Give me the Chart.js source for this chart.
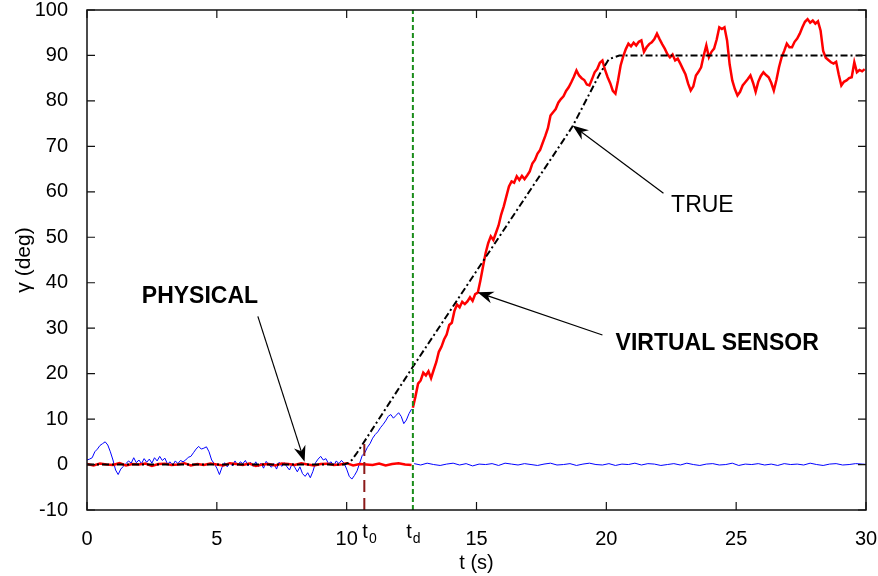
<!DOCTYPE html>
<html>
<head>
<meta charset="utf-8">
<script src="https://cdn.jsdelivr.net/npm/chart.js@4.4.0/dist/chart.umd.min.js"></script>
<style>
  html, body { margin: 0; padding: 0; background: #fff; }
</style>
</head>
<body>
<canvas id="myChart" width="878" height="576"></canvas>
<script>
// physical sensor, 0 .. 12.5 s, every 0.1 s
const physicalStart = 0;
const physicalStep = 0.1;
const physicalDeg = [
  1.0, 1.2, 1.5, 2.8, 3.4, 4.2, 4.6, 5.0, 4.3, 2.8,
  1.0, -1.2, -2.2, -1.0, -0.4, 0.2, 0.8, 0.3, 1.5, 0.4,
  1.0, 0.2, 1.3, 0.5, 1.2, 0.3, 1.5, 0.8, 1.8, 0.9,
  1.4, 0.1, 0.6, -0.2, 0.8, 0.2, 0.9, 0.6, 1.0, 1.6,
  1.8, 2.6, 3.4, 4.0, 3.4, 3.6, 3.9, 2.8, 1.0, 0.2,
  -0.8, -2.2, -0.6, 0.4, -0.5, 0.5, -0.3, 0.8, -0.2, 0.6,
  0.2, 0.9, -0.3, 0.5, -0.4, 0.6, -0.5, 0.3, -0.8, 0.7,
  0.0, -0.6, 0.2, -1.0, 0.5, -0.4, 0.4, -0.5, -1.2, 0.2,
  -0.6, -1.6, -0.5, -2.0, -2.6, -1.8, -2.9, -1.5, 0.4, 1.2,
  1.8, 1.0, 1.3, 0.2, 0.6, -0.3, 0.8, 0.2, 0.9, 0.3,
  -1.0, -2.6, -3.2, -2.4, -1.4, 0.3, 2.0, 2.6, 3.8, 4.6,
  5.8, 6.6, 7.2, 8.1, 8.8, 9.6, 10.6, 11.0, 10.2, 10.8,
  11.4, 10.6, 9.0, 9.8, 11.2, 12.2
];

// physical sensor after t_d, every 0.25 s
const physicalAfterStart = 12.6;
const physicalAfterStep = 0.25;
const physicalAfterDeg = [
  0.2, -0.1, 0.3, 0.0, -0.2, 0.1, 0.3, -0.1, 0.2, -0.3,
  0.1, 0.0, 0.2, -0.2, 0.3, 0.1, -0.1, 0.2, 0.0, -0.2,
  0.1, 0.3, -0.1, 0.0, 0.2, -0.2, 0.1, 0.3, 0.0, -0.1,
  0.2, -0.2, 0.1, 0.0, 0.3, -0.1, 0.2, 0.1, -0.2, 0.0,
  0.2, -0.1, 0.3, 0.0, -0.2, 0.1, 0.2, -0.1, 0.0, 0.3,
  -0.2, 0.1, 0.0, 0.2, -0.1, 0.1, -0.2, 0.2, 0.0, 0.1,
  -0.1, 0.3, 0.0, -0.2, 0.1, 0.2, -0.1, 0.0, 0.2, 0.1,
  0.0
];

// virtual sensor before t_d, every 0.25 s
const virtualFlatStart = 0;
const virtualFlatStep = 0.25;
const virtualFlatDeg = [
  0.1, -0.2, 0.2, 0.0, -0.1, 0.3, -0.2, 0.1, 0.0, 0.2,
  -0.3, 0.1, 0.2, -0.1, 0.0, 0.3, -0.2, 0.1, -0.1, 0.2,
  0.0, -0.2, 0.3, 0.1, -0.1, 0.2, -0.3, 0.0, 0.1, -0.2,
  0.2, 0.1, -0.1, 0.3, 0.0, -0.2, 0.1, 0.2, -0.1, 0.0,
  0.3, -0.2, 0.1, 0.0, -0.1, 0.2, -0.2, 0.1, 0.3, 0.0,
  -0.1
];

// virtual sensor from t_d on, every 0.1 s
const virtualStart = 12.55;
const virtualStep = 0.1;
const virtualDeg = [
  12.5, 15.0, 17.8, 18.5, 20.2, 19.6, 20.5, 19.0, 20.8, 22.5,
  24.8, 25.9, 27.5, 28.6, 30.7, 31.2, 33.8, 35.2, 34.6, 35.8,
  35.3, 35.9, 36.8, 36.0, 37.5, 37.8, 40.5, 43.5, 46.5, 48.7,
  50.2, 49.4, 51.0, 52.6, 55.0, 56.8, 59.0, 61.2, 62.3, 62.0,
  63.4, 62.6, 63.5, 62.8, 63.6, 64.5, 66.2, 67.0, 68.4, 69.2,
  70.8, 72.3, 74.0, 76.8, 77.5, 78.2, 79.6, 80.4, 81.0, 82.2,
  83.0, 84.1, 85.3, 86.7, 85.6, 85.0, 84.6, 83.6, 83.4, 84.8,
  86.3, 87.0, 88.4, 88.9, 86.8, 85.2, 83.9, 82.2, 81.6, 84.5,
  87.8, 89.8, 91.4, 92.6, 92.0, 92.8, 92.2, 93.0, 93.3, 90.8,
  91.8, 92.5, 92.9, 93.6, 94.8, 93.6, 92.5, 91.5, 90.3, 89.6,
  90.2, 88.9, 89.3, 88.2, 87.0, 85.8, 83.8, 82.3, 83.2, 85.6,
  86.4, 87.4, 90.0, 92.2, 89.6, 90.8, 91.5, 93.5, 96.2, 95.8,
  96.2, 93.3, 88.0, 84.5, 82.6, 81.2, 82.0, 83.4, 84.1, 84.8,
  85.6, 84.0, 82.0, 84.2, 85.5, 86.3, 85.7, 85.2, 84.0, 82.3,
  84.6, 87.4, 89.6, 91.0, 92.6, 91.8, 91.8, 93.0, 93.7, 94.8,
  96.2, 97.4, 98.0, 97.2, 97.7, 97.0, 97.5, 95.5, 91.0, 89.5,
  89.0, 88.5, 88.2, 88.6, 85.8, 83.4, 84.2, 84.5, 85.0, 85.2,
  88.5, 86.3, 86.8, 86.5, 87.0
];

// true angle
const trueTime = [0, 9.9, 10.05, 10.2, 10.4, 12.55, 18.7, 19.75, 20.1, 20.5, 30];
const trueDeg  = [0, 0, 0.3, 1.0, 2.6, 21.5, 74.4, 86.0, 89.2, 90.0, 90.0];

const xTicks = [0, 5, 10, 15, 20, 25, 30];
const yTicks = [-10, 0, 10, 20, 30, 40, 50, 60, 70, 80, 90, 100];
const t0 = 10.68;
const tdTime = 12.55;
const t0LineTop = 5.5;

const labels = [
  { text: 'PHYSICAL', bold: true, at: [4.35, 37], from: [6.58, 32.6], to: [8.38, 0.6] },
  { text: 'VIRTUAL SENSOR', bold: true, at: [24.27, 26.7], from: [19.85, 28.5], to: [15.04, 37.9] },
  { text: 'TRUE', bold: false, at: [23.7, 57], from: [22.2, 59.7], to: [18.7, 74.6] }
];

const FONT = "'Liberation Sans', Arial, sans-serif";

function series(start, step, values) {
  return values.map((v, i) => ({ x: Math.round((start + i * step) * 1000) / 1000, y: v }));
}

function arrow(ctx, x1, y1, x2, y2) {
  const ang = Math.atan2(y2 - y1, x2 - x1);
  const len = 16, half = 6, notch = 11;
  ctx.beginPath();
  ctx.moveTo(x1, y1);
  ctx.lineTo(x2 - Math.cos(ang) * notch, y2 - Math.sin(ang) * notch);
  ctx.lineWidth = 1.2;
  ctx.stroke();
  const bx = x2 - Math.cos(ang) * len, by = y2 - Math.sin(ang) * len;
  const nx = -Math.sin(ang), ny = Math.cos(ang);
  ctx.beginPath();
  ctx.moveTo(x2, y2);
  ctx.lineTo(bx + nx * half, by + ny * half);
  ctx.lineTo(x2 - Math.cos(ang) * notch, y2 - Math.sin(ang) * notch);
  ctx.lineTo(bx - nx * half, by - ny * half);
  ctx.closePath();
  ctx.fill();
}

const decorations = {
  id: 'decorations',
  afterDatasetsDraw(chart) {
    const ctx = chart.ctx;
    const xs = chart.scales.x, ys = chart.scales.y;
    const a = chart.chartArea;
    ctx.save();

    // t0 and td markers
    ctx.lineWidth = 2;
    ctx.strokeStyle = '#8b1a1a';
    ctx.setLineDash([12, 6]);
    ctx.beginPath();
    ctx.moveTo(xs.getPixelForValue(t0), a.bottom);
    ctx.lineTo(xs.getPixelForValue(t0), ys.getPixelForValue(t0LineTop));
    ctx.stroke();
    ctx.strokeStyle = '#1a8c1a';
    ctx.setLineDash([5, 3]);
    ctx.beginPath();
    ctx.moveTo(xs.getPixelForValue(tdTime), a.bottom);
    ctx.lineTo(xs.getPixelForValue(tdTime), a.top);
    ctx.stroke();
    ctx.setLineDash([]);

    // frame and inward ticks
    ctx.strokeStyle = '#111';
    ctx.lineWidth = 1.5;
    ctx.strokeRect(a.left, a.top, a.right - a.left, a.bottom - a.top);
    ctx.lineWidth = 1.2;
    ctx.beginPath();
    xTicks.forEach(v => {
      const px = xs.getPixelForValue(v);
      ctx.moveTo(px, a.bottom); ctx.lineTo(px, a.bottom - 8);
      ctx.moveTo(px, a.top); ctx.lineTo(px, a.top + 8);
    });
    yTicks.forEach(v => {
      const py = ys.getPixelForValue(v);
      ctx.moveTo(a.left, py); ctx.lineTo(a.left + 8, py);
      ctx.moveTo(a.right, py); ctx.lineTo(a.right - 8, py);
    });
    ctx.stroke();

    // t0 / td tick labels
    ctx.fillStyle = '#000';
    ctx.textBaseline = 'alphabetic';
    [[t0, '0', -2], [tdTime, 'd', null]].forEach(([v, sub, shift]) => {
      ctx.font = '20px ' + FONT;
      const w1 = ctx.measureText('t').width;
      ctx.font = '14px ' + FONT;
      const w2 = ctx.measureText(sub).width;
      const px = xs.getPixelForValue(v);
      const x = shift === null ? px - (w1 + w2) / 2 : px + shift;
      ctx.textAlign = 'left';
      ctx.font = '20px ' + FONT;
      ctx.fillText('t', x, 538);
      ctx.font = '14px ' + FONT;
      ctx.fillText(sub, x + w1 + 1, 543);
    });

    // annotations with arrows
    ctx.strokeStyle = '#000';
    ctx.fillStyle = '#000';
    labels.forEach(l => {
      ctx.font = (l.bold ? 'bold ' : '') + '23px ' + FONT;
      ctx.textAlign = 'center';
      ctx.textBaseline = 'middle';
      ctx.fillText(l.text, xs.getPixelForValue(l.at[0]), ys.getPixelForValue(l.at[1]));
      arrow(ctx, xs.getPixelForValue(l.from[0]), ys.getPixelForValue(l.from[1]),
                 xs.getPixelForValue(l.to[0]), ys.getPixelForValue(l.to[1]));
    });
    ctx.restore();
  }
};

const line = (data, color, width, dash) => ({
  data, borderColor: color, borderWidth: width, borderDash: dash || [],
  pointRadius: 0, tension: 0, fill: false
});

const myChart = new Chart(document.getElementById('myChart').getContext('2d'), {
  type: 'line',
  data: {
    datasets: [
      line(trueTime.map((t, i) => ({ x: t, y: trueDeg[i] })), '#000', 2, [7, 3, 2, 3]),
      line(series(virtualStart, virtualStep, virtualDeg), '#ff0000', 2.5),
      line(series(virtualFlatStart, virtualFlatStep, virtualFlatDeg), '#ff0000', 2.5),
      line(series(physicalStart, physicalStep, physicalDeg), '#0000ff', 1),
      line(series(physicalAfterStart, physicalAfterStep, physicalAfterDeg), '#0000ff', 1)
    ]
  },
  options: {
    responsive: false,
    animation: false,
    layout: { padding: { top: 10, right: 12, left: 0, bottom: 0 } },
    plugins: { legend: { display: false }, tooltip: { enabled: false } },
    scales: {
      x: {
        type: 'linear', min: 0, max: 30,
        grid: { display: false }, border: { display: false },
        afterBuildTicks: s => { s.ticks = xTicks.map(v => ({ value: v })); },
        afterFit: s => { s.height = 66; s.paddingLeft = 0; s.paddingRight = 0; },
        ticks: { color: '#000', padding: 9, maxRotation: 0, font: { family: FONT, size: 20 } },
        title: { display: true, text: 't (s)', color: '#000', padding: { top: 0, bottom: 1 }, font: { family: FONT, size: 20 } }
      },
      y: {
        min: -10, max: 100,
        grid: { display: false }, border: { display: false },
        afterBuildTicks: s => { s.ticks = yTicks.map(v => ({ value: v })); },
        afterFit: s => { s.width = 87; s.paddingTop = 0; s.paddingBottom = 0; },
        ticks: { color: '#000', padding: 11, font: { family: FONT, size: 20 } },
        title: { display: true, text: 'γ (deg)', color: '#000', padding: { top: 12, bottom: 0 }, font: { family: FONT, size: 21 } }
      }
    }
  },
  plugins: [decorations]
});
</script>
</body>
</html>
